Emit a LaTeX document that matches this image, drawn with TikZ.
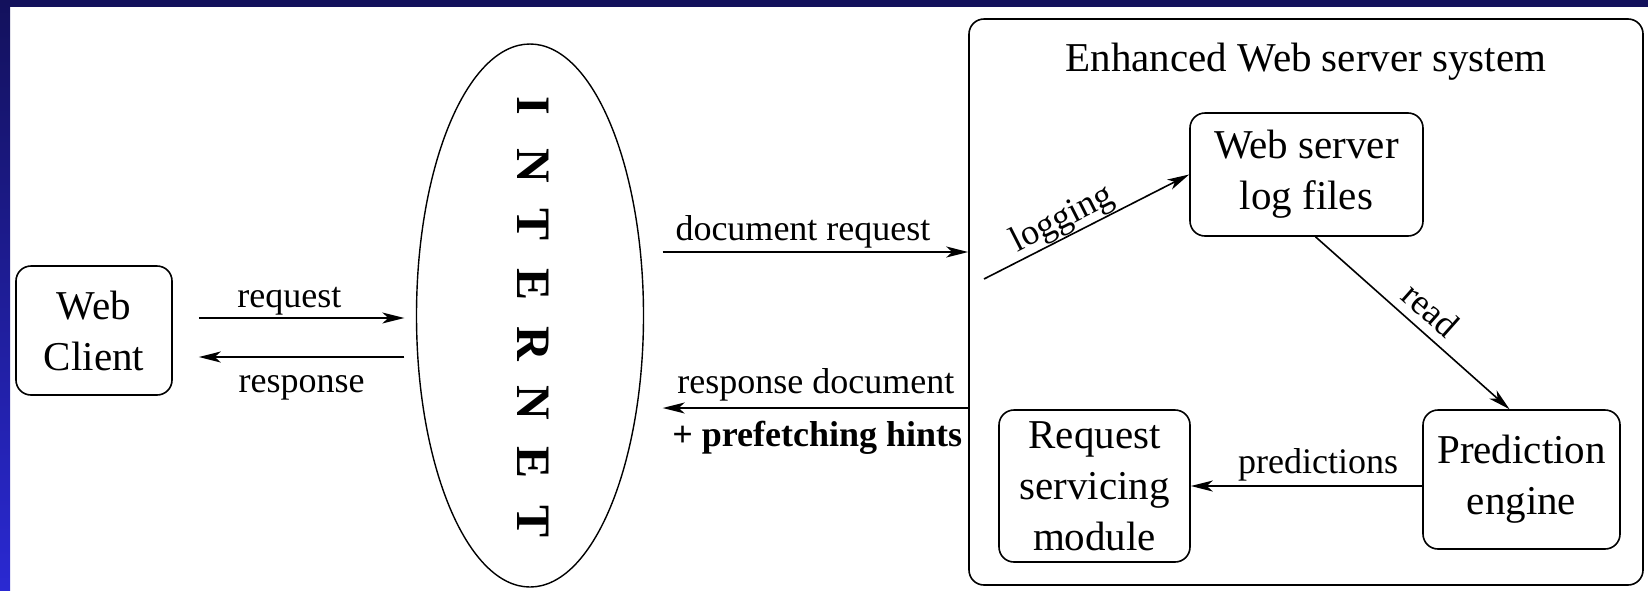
\documentclass[tikz,border=0pt]{standalone}
\usepackage{fontspec}
\setmainfont{Liberation Serif}
\usetikzlibrary{arrows.meta,calc,shapes.geometric}
\definecolor{navy}{HTML}{13115C}
\definecolor{brightblue}{HTML}{2A29D2}
\begin{document}
\begin{tikzpicture}[x=0.5pt,y=-0.5pt,
  box/.style={draw, line width=0.8pt, rounded corners=7.5pt, align=center,
    font=\fontsize{20.5}{25.5}\selectfont, inner sep=0pt},
  lbl/.style={font=\fontsize{18}{22}\selectfont, inner sep=0pt},
  arr/.style={-{Stealth[length=11pt,width=5.5pt,inset=3pt]}, line width=0.8pt},
  letterstyle/.style={font=\fontsize{24}{24}\selectfont\bfseries, rotate=-90, inner sep=0pt}]
\useasboundingbox (0,0) rectangle (1648,590);
\fill[white] (0,0) rectangle (1648,590);
\fill[navy] (0,0) rectangle (1648,7);
\shade[top color=navy, bottom color=brightblue] (0,0) rectangle (10,590);

% nodes
\node[box, minimum width=78pt, minimum height=64.5pt] (client) at (94,330.5) {Web\\Client};
\node[draw, ellipse, line width=0.7pt, minimum width=113.5pt, minimum height=271.5pt, inner sep=0pt] (internet) at (530,315.5) {};
\foreach \l [count=\i] in {I,N,T,E,R,N,E,T}
  \node[letterstyle] (let\i) at (533,{106+(\i-1)*59.4}) {\l};
\node[box, minimum width=337pt, minimum height=283pt] (sys) at (1306,302) {};
\node[font=\fontsize{20.5}{25.5}\selectfont, anchor=base, inner sep=0pt] (title) at (1306,71) {Enhanced Web server system};
\node[box, minimum width=116.5pt, minimum height=61.5pt] (log) at (1306.5,174.5) {Web server\\log files};
\node[box, minimum width=98.5pt, minimum height=69.5pt] (pred) at (1521.5,479.5) {Prediction\\engine};
\node[box, minimum width=95.5pt, minimum height=76pt] (req) at (1094.5,486) {Request\\servicing\\module};

% helper coordinates
\coordinate (rqy) at (0,318);
\coordinate (rsy) at (0,357);
\coordinate (dry) at (0,252);
\coordinate (rdy) at (0,408);
\coordinate (logstart) at (984,279);

% connectors
\draw[arr, shorten <=13pt, shorten >=5.75pt] (client.east |- rqy) -- (internet.west |- rqy)
  node[lbl, pos=0.48, anchor=base, yshift=5.5pt] {request};
\draw[arr, shorten <=5.75pt, shorten >=13pt] (internet.west |- rsy) -- (client.east |- rsy)
  node[lbl, pos=0.47, anchor=base, yshift=-17.5pt] {response};
\draw[arr, shorten <=9.25pt] (internet.east |- dry) -- (sys.west |- dry)
  node[lbl, pos=0.49, anchor=base, yshift=6pt] {document request};
\draw[arr, shorten >=9.25pt] (sys.west |- rdy) -- (internet.east |- rdy)
  node[lbl, pos=0.47, anchor=base, yshift=7.5pt] {response document}
  node[lbl, pos=0.466, anchor=base, yshift=-19.25pt] {\bfseries + prefetching hints};
\draw[arr] (logstart) -- (log.west)
  node[lbl, pos=0.42, sloped, above=0pt] {logging};
\draw[arr] ([xshift=4.5pt]log.south) -- ([xshift=-6pt]pred.north)
  node[lbl, pos=0.52, sloped, above=4.5pt] {read};
\draw[arr] (pred.west |- req.east) -- (req.east)
  node[lbl, pos=0.45, anchor=base, yshift=6.5pt] {predictions};
\end{tikzpicture}
\end{document}
